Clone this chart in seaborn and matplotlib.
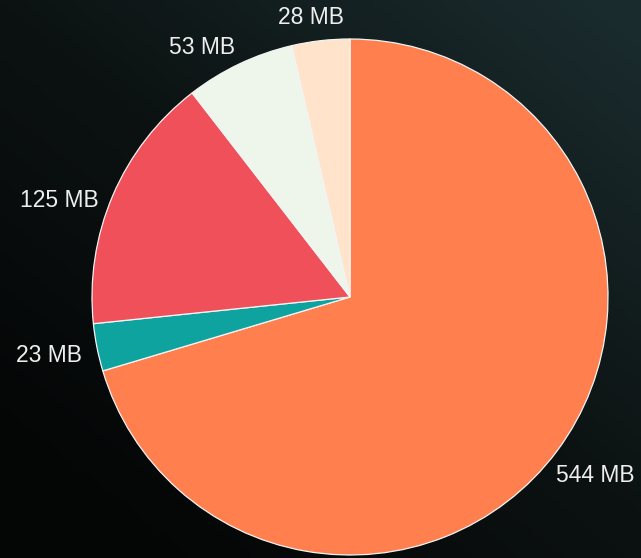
import matplotlib
matplotlib.use("Agg")
import matplotlib.pyplot as plt
from matplotlib.colors import LinearSegmentedColormap
import numpy as np
import seaborn as sns

labels = ["544 MB", "23 MB", "125 MB", "53 MB", "28 MB"]
sizes_mb = [544, 23, 125, 53, 28]
colors = ["#FF7F4F", "#0FA3A0", "#EF5059", "#EEF6EC", "#FFE3CA"]

sns.set_theme(style="dark")
plt.rcParams["font.family"] = ["Liberation Sans", "DejaVu Sans"]

W, H = 641, 558
fig = plt.figure(figsize=(W / 100, H / 100), dpi=100, facecolor="#0b0f0f")

# dark background gradient (bottom-left black -> top-right dark teal)
bg_ax = fig.add_axes([0, 0, 1, 1])
gx, gy = np.meshgrid(np.linspace(0, 1, 200), np.linspace(0, 1, 200))
grad = np.clip(0.55 * gx + 0.6 * gy - 0.1, 0, 1)
cmap = LinearSegmentedColormap.from_list("bg", ["#040505", "#0c1212", "#1a2b2d"])
bg_ax.imshow(grad, cmap=cmap, origin="lower", extent=[0, 1, 0, 1], aspect="auto")
bg_ax.axis("off")

ax = fig.add_axes([0, 0, 1, 1])
ax.patch.set_alpha(0)

wedges, texts = ax.pie(
    sizes_mb,
    labels=labels,
    colors=colors,
    startangle=90,
    counterclock=False,
    labeldistance=1.08,
    wedgeprops=dict(edgecolor="#F4F4F4", linewidth=0.9),
    textprops=dict(color="#EEEEEE", fontsize=16.5),
)

r_px = 258.0
cx, cy = 350.0, 297.0
ax.set_xlim(-cx / r_px, (W - cx) / r_px)
ax.set_ylim(-(H - cy) / r_px, cy / r_px)
ax.set_aspect("equal")
ax.axis("off")

# label anchor placement (pixel offsets from pie centre, in radius units)
label_anchor = {
    "544 MB": ((556 - cx) / r_px, (cy - 476) / r_px, "left"),
    "23 MB": ((82 - cx) / r_px, (cy - 355) / r_px, "right"),
    "125 MB": ((99 - cx) / r_px, (cy - 200) / r_px, "right"),
    "53 MB": ((235 - cx) / r_px, (cy - 47) / r_px, "right"),
    "28 MB": ((344 - cx) / r_px, (cy - 17) / r_px, "right"),
}
for t in texts:
    x, y, ha = label_anchor[t.get_text()]
    t.set_position((x, y))
    t.set_ha(ha)
    t.set_va("center")

fig.savefig("out.png", dpi=100, facecolor=fig.get_facecolor())
